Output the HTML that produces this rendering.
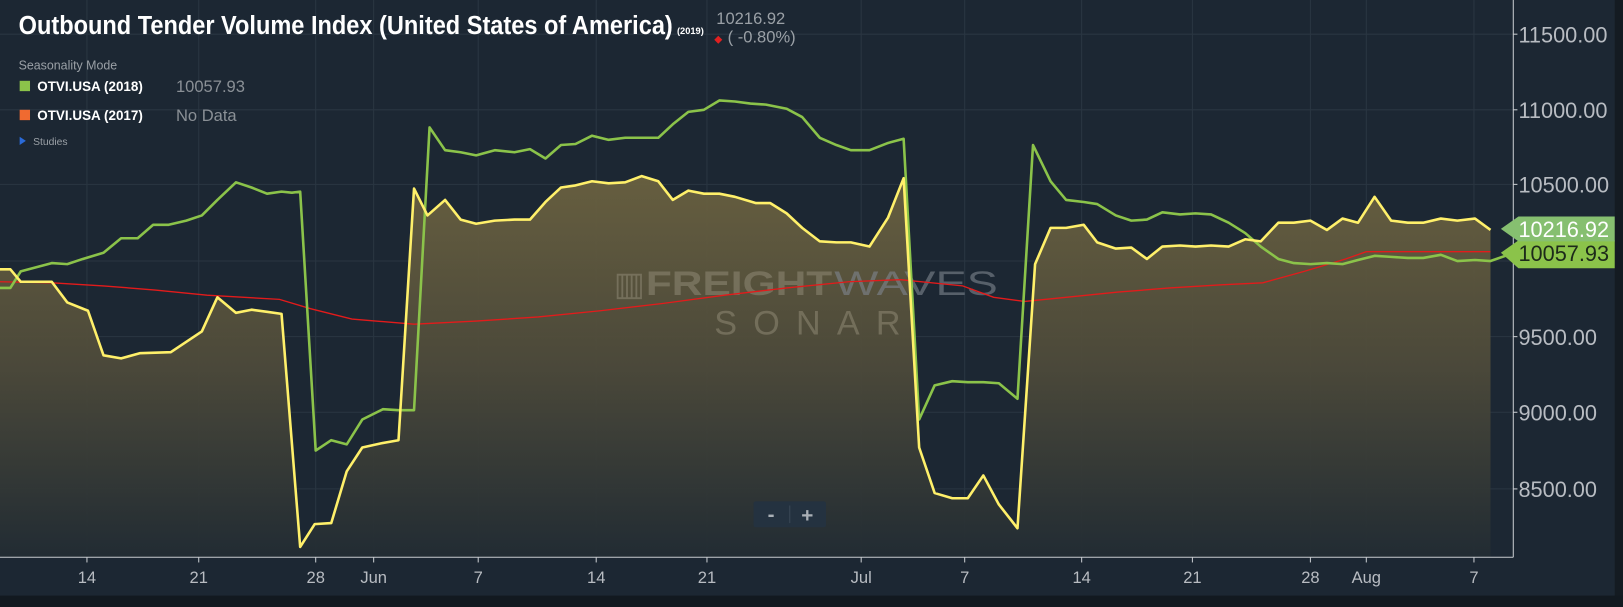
<!DOCTYPE html>
<html><head><meta charset="utf-8"><style>
html,body{margin:0;padding:0;background:#1c2733;overflow:hidden}
svg{display:block}
text{font-family:"Liberation Sans",sans-serif}
</style></head><body>
<svg width="1623" height="607" viewBox="0 0 1568 586" preserveAspectRatio="none" xmlns="http://www.w3.org/2000/svg">
<defs>
<linearGradient id="fg" gradientUnits="userSpaceOnUse" x1="0" y1="170" x2="0" y2="538">
<stop offset="0" stop-color="#6a6140"/><stop offset="0.5" stop-color="#4d4a3a"/><stop offset="1" stop-color="#222c33"/>
</linearGradient>
</defs>
<rect width="1568" height="586" fill="#1c2733"/>
<rect x="1560" y="0" width="8" height="586" fill="#141b22"/>
<rect x="0" y="575" width="1568" height="11" fill="#121920"/>
<g stroke="#2a3642" stroke-width="1">
<line x1="0" y1="33" x2="1462" y2="33"/><line x1="0" y1="106" x2="1462" y2="106"/><line x1="0" y1="178" x2="1462" y2="178"/><line x1="0" y1="252" x2="1462" y2="252"/><line x1="0" y1="325" x2="1462" y2="325"/><line x1="0" y1="398" x2="1462" y2="398"/><line x1="0" y1="472" x2="1462" y2="472"/>
<line x1="84" y1="0" x2="84" y2="538"/><line x1="192" y1="0" x2="192" y2="538"/><line x1="305" y1="0" x2="305" y2="538"/><line x1="361" y1="0" x2="361" y2="538"/><line x1="462" y1="0" x2="462" y2="538"/><line x1="576" y1="0" x2="576" y2="538"/><line x1="683" y1="0" x2="683" y2="538"/><line x1="832" y1="0" x2="832" y2="538"/><line x1="932" y1="0" x2="932" y2="538"/><line x1="1045" y1="0" x2="1045" y2="538"/><line x1="1152" y1="0" x2="1152" y2="538"/><line x1="1266" y1="0" x2="1266" y2="538"/><line x1="1320" y1="0" x2="1320" y2="538"/><line x1="1424" y1="0" x2="1424" y2="538"/>
</g>
<path fill="url(#fg)" opacity="0.95" d="M0,538 L0,260 L10,260 L20,272 L50,272 L65,292 L85,300 L100,343 L117,346 L135,341 L165,340 L180,330 L195,320 L210,287 L228,302 L243,299 L258,301 L272,303 L290,528 L304,506 L320,505 L335,455 L350,432 L368,428 L385,425 L400,182 L413,208 L430,193 L445,212 L460,216 L478,213 L497,212 L512,212 L527,195 L542,181 L556,179 L572,175 L588,177 L604,176 L620,170 L636,175 L650,193 L665,184 L680,187 L695,187 L710,190 L730,196 L744,196 L760,206 L775,220 L792,233 L808,234 L822,234 L840,238 L858,210 L873,172 L888,432 L903,476 L920,481 L935,481 L950,459 L965,487 L983,510 L1000,255 L1015,220 L1030,220 L1047,217 L1060,234 L1078,240 L1093,239 L1108,250 L1123,238 L1140,237 L1155,238 L1170,237 L1187,238 L1203,231 L1218,233 L1235,215 L1250,215 L1266,213 L1282,222 L1297,211 L1312,215 L1328,190 L1344,213 L1360,215 L1375,215 L1392,211 L1408,213 L1425,211 L1440,222 L1440,538 Z"/>
<g opacity="0.6">
<text x="593" y="285" font-size="32" fill="#8a8470">▥</text>
<text x="624" y="285" font-size="33" font-weight="bold" fill="#8a8470" textLength="180" lengthAdjust="spacingAndGlyphs">FREIGHT</text>
<text x="806" y="285" font-size="33" fill="#7f8690" textLength="158" lengthAdjust="spacingAndGlyphs">WAVES</text>
<text x="690" y="323" font-size="33" fill="#8a8470" textLength="180" lengthAdjust="spacing">SONAR</text>
</g>
<polyline fill="none" stroke="#e31b1b" stroke-width="1.3" points="0,272 50,273 100,276 150,280 200,285 270,289 300,298 340,308 400,313 460,310 520,306 580,300 640,293 700,285 760,278 820,272 870,270 930,276 960,287 990,291 1030,287 1080,282 1130,278 1180,275 1220,273 1260,262 1300,250 1320,243 1440,243"/>
<polyline fill="none" stroke="#8bc34a" stroke-width="2.5" stroke-linejoin="round" points="0,278 10,278 20,262 35,258 50,254 65,255 80,250 100,244 117,230 133,230 148,217 163,217 180,213 195,208 210,193 228,176 243,181 258,187 272,185 282,186 290,185 305,435 320,425 335,429 350,405 370,395 385,396 400,396 415,123 430,145 445,147 460,150 478,145 497,147 512,144 527,153 542,140 556,139 572,131 588,135 604,133 620,133 636,133 650,120 665,108 680,106 695,97 710,98 725,100 740,101 760,105 775,113 792,133 808,140 822,145 840,145 858,138 873,134 888,405 903,372 920,368 935,369 950,369 965,370 983,385 998,140 1015,175 1030,193 1047,195 1060,197 1078,208 1093,213 1108,212 1123,205 1140,207 1155,206 1170,207 1187,215 1203,225 1218,238 1235,250 1250,254 1266,255 1282,254 1297,255 1312,251 1328,247 1344,248 1360,249 1375,249 1392,246 1408,252 1425,251 1440,252 1460,245"/>
<polyline fill="none" stroke="#fff06a" stroke-width="2.5" stroke-linejoin="round" points="0,260 10,260 20,272 50,272 65,292 85,300 100,343 117,346 135,341 165,340 180,330 195,320 210,287 228,302 243,299 258,301 272,303 290,528 304,506 320,505 335,455 350,432 368,428 385,425 400,182 413,208 430,193 445,212 460,216 478,213 497,212 512,212 527,195 542,181 556,179 572,175 588,177 604,176 620,170 636,175 650,193 665,184 680,187 695,187 710,190 730,196 744,196 760,206 775,220 792,233 808,234 822,234 840,238 858,210 873,172 888,432 903,476 920,481 935,481 950,459 965,487 983,510 1000,255 1015,220 1030,220 1047,217 1060,234 1078,240 1093,239 1108,250 1123,238 1140,237 1155,238 1170,237 1187,238 1203,231 1218,233 1235,215 1250,215 1266,213 1282,222 1297,211 1312,215 1328,190 1344,213 1360,215 1375,215 1392,211 1408,213 1425,211 1440,222"/>
<line x1="1462" y1="0" x2="1462" y2="538" stroke="#c8ccd0" stroke-width="1"/>
<line x1="0" y1="538" x2="1462" y2="538" stroke="#c8ccd0" stroke-width="1"/>
<g fill="#b8bcc2" font-size="21">
<text x="1467" y="41">11500.00</text><text x="1467" y="114">11000.00</text><text x="1467" y="186">10500.00</text><text x="1467" y="333">9500.00</text><text x="1467" y="406">9000.00</text><text x="1467" y="480">8500.00</text>
</g>
<g stroke="#c8ccd0"><line x1="1462" y1="33" x2="1466" y2="33"/><line x1="1462" y1="106" x2="1466" y2="106"/><line x1="1462" y1="178" x2="1466" y2="178"/><line x1="1462" y1="325" x2="1466" y2="325"/><line x1="1462" y1="398" x2="1466" y2="398"/><line x1="1462" y1="472" x2="1466" y2="472"/></g>
<path d="M1450,244 L1467,232 L1560,232 L1560,259 L1467,259 Z" fill="#8bc34a"/>
<text x="1467" y="252" font-size="21" fill="#1d2a1a">10057.93</text>
<path d="M1450,221 L1467,209 L1560,209 L1560,233 L1467,233 Z" fill="#86bf70"/>
<text x="1467" y="229" font-size="21" fill="#ffffff">10216.92</text>
<g fill="#b8bcc2" font-size="16" text-anchor="middle">
<text x="84" y="563">14</text><text x="192" y="563">21</text><text x="305" y="563">28</text><text x="361" y="563">Jun</text><text x="462" y="563">7</text><text x="576" y="563">14</text><text x="683" y="563">21</text><text x="832" y="563">Jul</text><text x="932" y="563">7</text><text x="1045" y="563">14</text><text x="1152" y="563">21</text><text x="1266" y="563">28</text><text x="1320" y="563">Aug</text><text x="1424" y="563">7</text>
</g>
<g stroke="#c8ccd0"><line x1="84" y1="538" x2="84" y2="543"/><line x1="192" y1="538" x2="192" y2="543"/><line x1="305" y1="538" x2="305" y2="543"/><line x1="361" y1="538" x2="361" y2="543"/><line x1="462" y1="538" x2="462" y2="543"/><line x1="576" y1="538" x2="576" y2="543"/><line x1="683" y1="538" x2="683" y2="543"/><line x1="832" y1="538" x2="832" y2="543"/><line x1="932" y1="538" x2="932" y2="543"/><line x1="1045" y1="538" x2="1045" y2="543"/><line x1="1152" y1="538" x2="1152" y2="543"/><line x1="1266" y1="538" x2="1266" y2="543"/><line x1="1320" y1="538" x2="1320" y2="543"/><line x1="1424" y1="538" x2="1424" y2="543"/></g>
<rect x="728" y="484" width="70" height="25" rx="2" fill="#243240"/>
<line x1="763" y1="488" x2="763" y2="505" stroke="#3a4856"/>
<text x="745" y="503" font-size="20" font-weight="bold" fill="#aab0b6" text-anchor="middle">-</text>
<text x="780" y="504" font-size="20" font-weight="bold" fill="#aab0b6" text-anchor="middle">+</text>
<text x="18" y="33" font-size="25" font-weight="bold" fill="#ffffff" textLength="632" lengthAdjust="spacingAndGlyphs">Outbound Tender Volume Index (United States of America)</text>
<text x="654" y="33" font-size="9" font-weight="bold" fill="#ffffff">(2019)</text>
<text x="692" y="23" font-size="16" fill="#9aa0a6">10216.92</text>
<text x="690" y="41" font-size="10" fill="#e02020">◆</text>
<text x="703" y="41" font-size="16" fill="#9aa0a6">( -0.80%)</text>
<text x="18" y="67" font-size="12" fill="#9aa0a6">Seasonality Mode</text>
<rect x="19" y="78" width="10" height="10" fill="#8bc34a"/>
<text x="36" y="88" font-size="13" font-weight="bold" fill="#ffffff">OTVI.USA (2018)</text>
<text x="170" y="89" font-size="16" fill="#8a9096">10057.93</text>
<rect x="19" y="106" width="10" height="10" fill="#f06a30"/>
<text x="36" y="116" font-size="13" font-weight="bold" fill="#ffffff">OTVI.USA (2017)</text>
<text x="170" y="117" font-size="16" fill="#8a9096">No Data</text>
<path d="M19,132 L25,136 L19,140 Z" fill="#2a6ad8"/>
<text x="32" y="140" font-size="10" fill="#9aa0a6">Studies</text>
</svg>
</body></html>
